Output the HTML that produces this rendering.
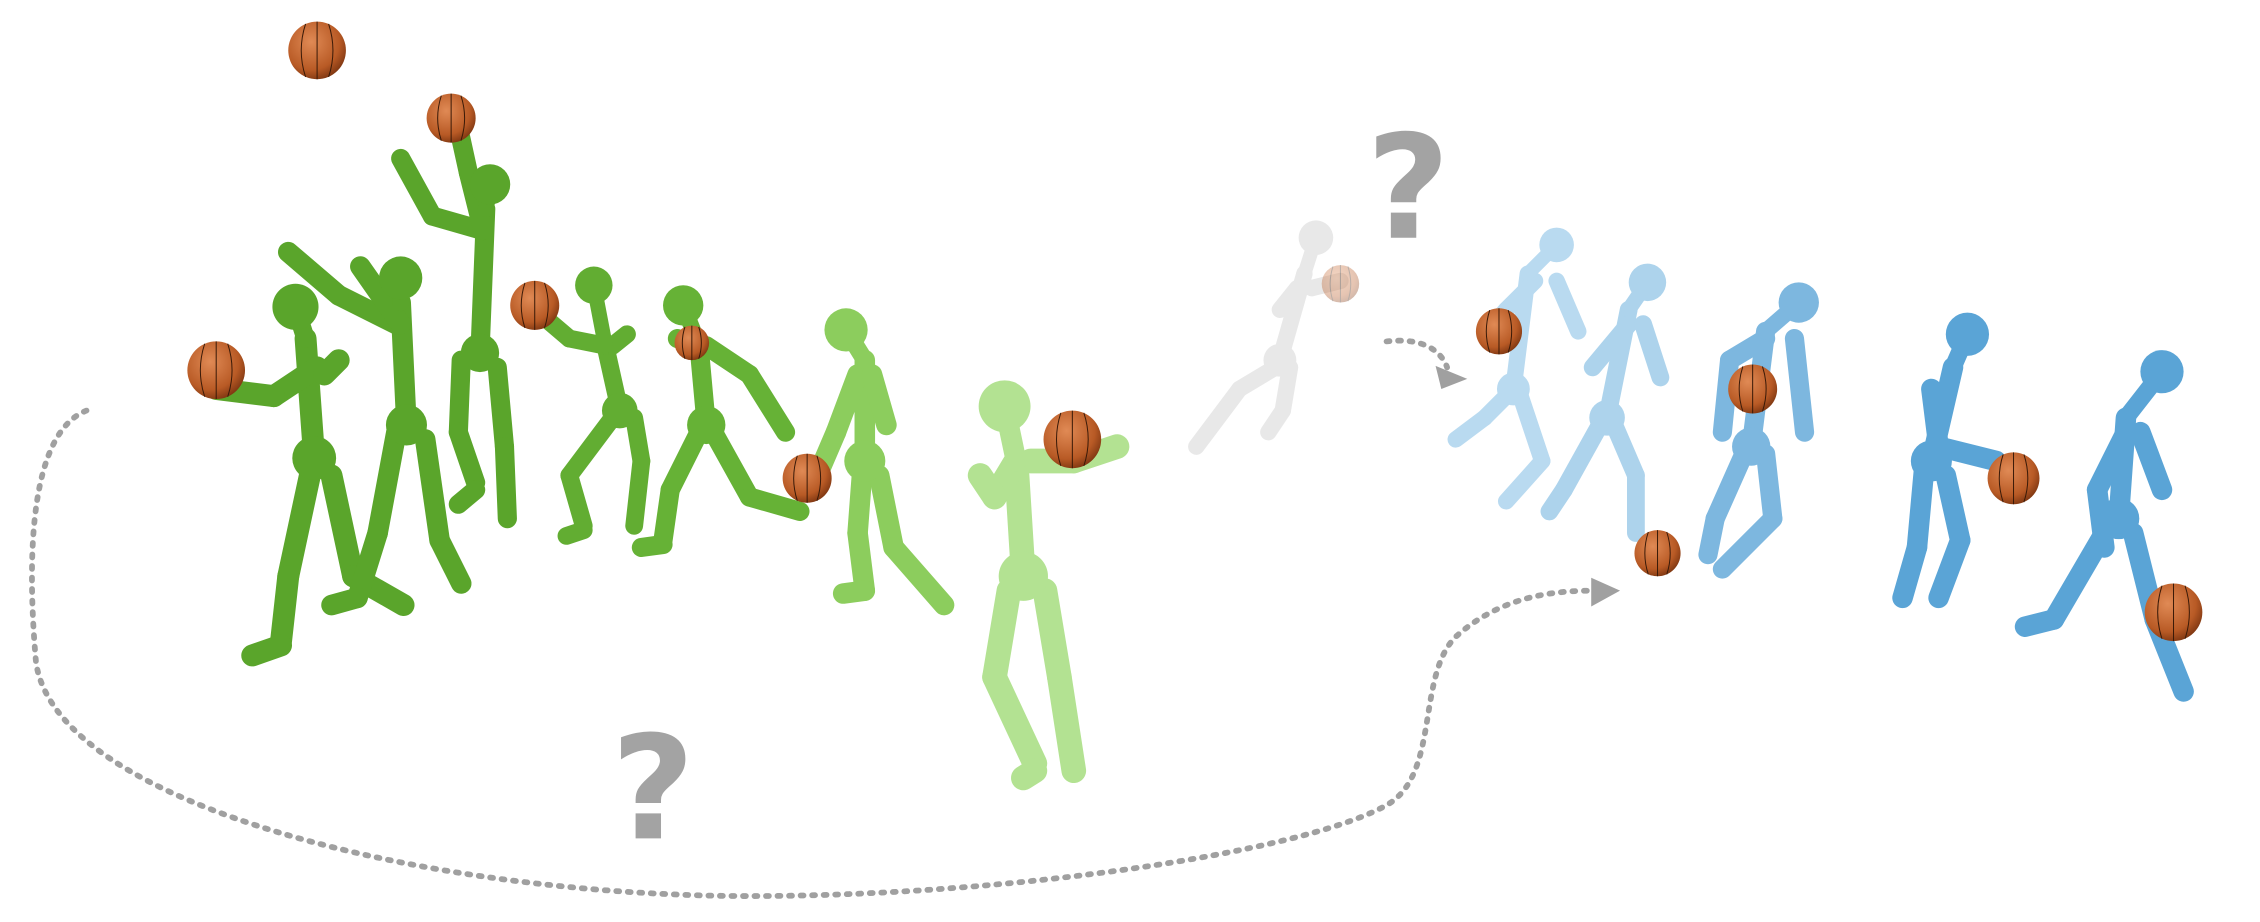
<!DOCTYPE html>
<html><head><meta charset="utf-8">
<style>
html,body{margin:0;padding:0;background:#fff;}
svg{display:block;}
.q{font-family:"DejaVu Sans","Liberation Sans",sans-serif;font-weight:bold;fill:#a3a3a3;}
</style></head>
<body>
<svg id="scene" width="2260" height="922" viewBox="0 0 1568 640" preserveAspectRatio="none" xmlns="http://www.w3.org/2000/svg">
  <defs>
    <radialGradient id="ballg" cx="0.4" cy="0.35" r="0.7">
      <stop offset="0" stop-color="#e08a55"/><stop offset="0.7" stop-color="#b85a25"/><stop offset="1" stop-color="#7a3410"/>
    </radialGradient>
  </defs>
  <path d="M60,285 C22,300 18,380 25,460 C40,560 300,622 520,622 C700,622 900,592 960,560 C1000,540 982,470 1010,442 C1040,415 1075,410 1105,410" fill="none" stroke="#a0a0a0" stroke-width="4" stroke-dasharray="2 6" stroke-linecap="round"/>
  <polygon points="1104,401 1124,410 1104,421" fill="#a0a0a0"/>
  <path d="M962,237 C988,234 1000,244 1004,255" fill="none" stroke="#a0a0a0" stroke-width="4" stroke-dasharray="2 6" stroke-linecap="round"/>
  <polygon points="996,254 1018,263 1000,270" fill="#a0a0a0"/>
  <text class="q" x="977" y="165" font-size="100" text-anchor="middle">?</text>
  <text class="q" x="453" y="582" font-size="100" text-anchor="middle">?</text>
  <g id="figs"></g>
  <g id="balls"></g>
</svg>
<script>
const figColors=["#5aa52b","#5aa52b","#5aa52b","#62ad32","#66b236","#80c84c","#93d764","#e4e4e4","#9ccbea","#92c5e6","#6fb0dc","#5aa4d6","#5aa4d6"];
const figOpacity=[1,1,1,1,1,0.9,0.7,0.85,0.7,0.75,0.9,1,1];
const figHeads=[[205,213,16],[278,193,15],[340,128,14],[412,198,13],[474,212,14],[587,229,15],[697,282,18],[913,165,12],[1080,170,12],[1143,196,13],[1248,210,14],[1365,232,15],[1500,258,15]];
const figLimbs=[
 [[212,235,218,318],[215,330,200,400],[200,400,195,445],[195,448,175,455],[230,330,245,400],[245,400,280,420],[220,255,190,275],[190,275,150,270],[225,260,235,250]],
 [[278,210,282,295],[275,300,262,370],[262,370,248,415],[248,415,230,420],[295,305,305,375],[305,375,320,405],[275,225,235,205],[235,205,200,175],[278,225,250,185]],
 [[337,145,333,245],[320,250,318,300],[318,300,330,335],[330,340,318,350],[345,255,350,310],[350,310,352,360],[335,160,300,150],[300,150,278,110],[335,160,325,120],[325,120,318,88]],
 [[420,240,430,285],[425,290,395,330],[395,330,405,365],[405,368,393,372],[440,290,445,320],[445,320,440,365],[420,240,395,235],[395,235,375,218],[425,240,435,232]],
 [[485,240,490,295],[485,300,465,340],[465,340,460,375],[460,378,445,380],[495,300,520,345],[520,345,555,355],[490,240,520,260],[520,260,545,300],[485,240,470,235]],
 [[600,250,600,320],[598,330,595,370],[595,370,600,410],[600,410,585,412],[610,330,620,380],[620,380,655,420],[595,260,580,300],[580,300,565,335],[605,260,615,295]],
 [[705,320,710,400],[700,410,690,470],[690,470,718,530],[718,535,710,540],[725,410,735,470],[735,470,745,535],[705,320,690,345],[690,345,680,330],[715,320,745,320],[745,320,775,310]],
 [[905,190,888,250],[885,255,860,270],[860,270,830,310],[895,255,890,285],[890,285,880,300],[910,200,930,195],[900,200,888,215]],
 [[1060,190,1050,270],[1045,275,1030,290],[1030,290,1010,305],[1055,275,1070,320],[1070,320,1045,348],[1065,195,1045,215],[1045,215,1030,232],[1080,195,1095,230]],
 [[1130,215,1115,290],[1110,295,1085,340],[1085,340,1075,355],[1120,295,1135,330],[1135,330,1135,370],[1130,225,1105,255],[1140,225,1152,262]],
 [[1225,230,1215,310],[1210,315,1190,360],[1190,360,1185,385],[1225,315,1230,360],[1230,360,1195,395],[1225,235,1200,250],[1200,250,1195,300],[1245,235,1252,300]],
 [[1355,255,1340,320],[1335,325,1330,380],[1330,380,1320,415],[1350,330,1360,375],[1360,375,1345,415],[1340,270,1345,310],[1345,310,1385,320]],
 [[1475,290,1470,360],[1460,370,1425,430],[1425,430,1405,435],[1480,370,1495,430],[1495,430,1515,480],[1475,300,1455,340],[1455,340,1460,380],[1485,300,1500,340]]
];
const ballPos=[[220,35,20],[313,82,17],[150,257,20],[371,212,17],[480,238,12],[560,332,17],[744,305,20],[930,197,13],[1040,230,16],[1216,270,17],[1150,384,16],[1397,332,18],[1508,425,20]];
const ballFade=[1,1,1,1,1,1,1,0.35,1,1,1,1,1];
const NS="http://www.w3.org/2000/svg";
const figs=document.getElementById('figs');
figHeads.forEach((h,i)=>{
  const g=document.createElementNS(NS,'g');
  
  
  g.setAttribute('opacity',figOpacity[i]);
  const c=figColors[i];
  figLimbs[i].forEach(l=>{
    const ln=document.createElementNS(NS,'line');
    ln.setAttribute('x1',l[0]);ln.setAttribute('y1',l[1]);ln.setAttribute('x2',l[2]);ln.setAttribute('y2',l[3]);
    ln.setAttribute('stroke',c);ln.setAttribute('stroke-width',h[2]*0.95);ln.setAttribute('stroke-linecap','round');
    
    
    g.appendChild(ln);
  });
  const sp=figLimbs[i][0];
  const hip=document.createElementNS(NS,'circle');
  hip.setAttribute('cx',sp[2]);hip.setAttribute('cy',sp[3]);hip.setAttribute('r',h[2]*0.95);hip.setAttribute('fill',c);
  
  
  g.appendChild(hip);
  const neck=document.createElementNS(NS,'line');
  neck.setAttribute('x1',h[0]);neck.setAttribute('y1',h[1]);neck.setAttribute('x2',sp[0]);neck.setAttribute('y2',sp[1]);
  neck.setAttribute('stroke',c);neck.setAttribute('stroke-width',h[2]*0.8);neck.setAttribute('stroke-linecap','round');
  
  
  g.appendChild(neck);
  const hd=document.createElementNS(NS,'circle');
  hd.setAttribute('cx',h[0]);hd.setAttribute('cy',h[1]);hd.setAttribute('r',h[2]);hd.setAttribute('fill',c);
  
  
  g.appendChild(hd);
  figs.appendChild(g);
});
const balls=document.getElementById('balls');
ballPos.forEach((b,i)=>{
  const g=document.createElementNS(NS,'g');
  
  
  g.setAttribute('opacity',ballFade[i]);
  const c=document.createElementNS(NS,'circle');
  c.setAttribute('cx',b[0]);c.setAttribute('cy',b[1]);c.setAttribute('r',b[2]);c.setAttribute('fill','url(#ballg)');
  g.appendChild(c);
  const p=document.createElementNS(NS,'path');
  const x=b[0],y=b[1],r=b[2];
  p.setAttribute('d',`M${x},${y-r} L${x},${y+r} M${x-r*0.4},${y-r*0.92} Q${x-r*0.7},${y} ${x-r*0.4},${y+r*0.92} M${x+r*0.4},${y-r*0.92} Q${x+r*0.7},${y} ${x+r*0.4},${y+r*0.92}`);
  p.setAttribute('stroke','#3a1a08');p.setAttribute('stroke-width','0.7');p.setAttribute('fill','none');
  g.appendChild(p);
  balls.appendChild(g);
});
</script>
</body></html>
